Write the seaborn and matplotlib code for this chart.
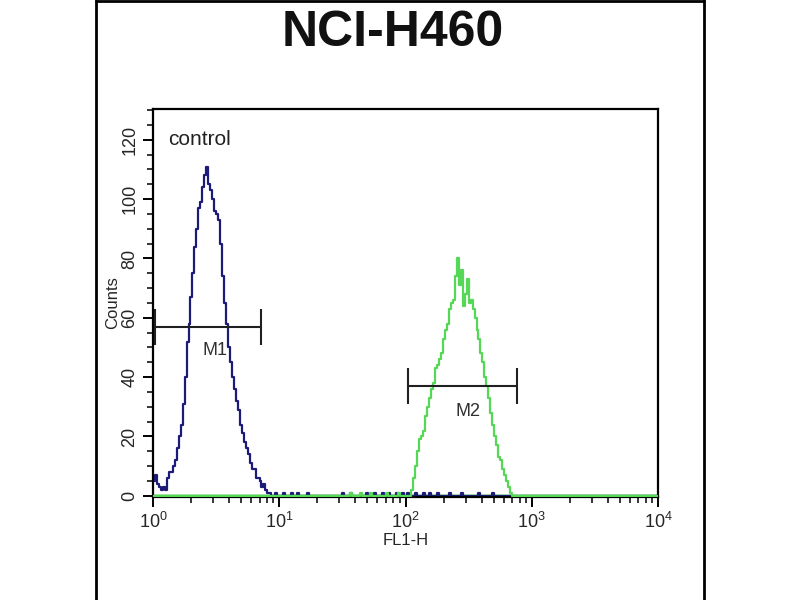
import numpy as np
import pandas as pd
import seaborn as sns
import matplotlib.pyplot as plt
from matplotlib.lines import Line2D
from matplotlib.ticker import MultipleLocator

# histogram channels: 256 channels spread over 4 log decades
n_channels = 256
decades = 4

blue_start = 0
blue_counts = [5, 7, 4, 3, 2, 3, 2, 6, 8, 8, 10, 12, 16, 20, 24, 31, 40, 52, 58, 67,
               75, 84, 90, 97, 99, 104, 108, 111, 105, 103, 100, 96, 95, 93, 85, 74,
               65, 58, 50, 45, 40, 36, 32, 29, 24, 21, 18, 16, 14, 11, 9, 9, 6, 6, 5,
               3, 4, 2, 1, 1]
blue_noise_ch = [62, 66, 70, 73, 78, 96, 100, 108, 112, 116, 119, 123, 126, 129, 133,
                 137, 140, 144, 150, 156, 165, 172]

green_start = 130
green_counts = [0, 2, 6, 10, 15, 19, 20, 22, 27, 30, 33, 36, 38, 43, 44, 46, 48, 53,
                56, 58, 63, 65, 66, 74, 80, 71, 76, 64, 68, 73, 65, 66, 63, 60, 56, 53,
                48, 45, 40, 37, 33, 28, 24, 20, 17, 13, 12, 9, 7, 5, 3, 1]
green_noise_ch = [100, 105, 110, 118, 124]

gate_names = ['M1', 'M2']
gate_lo = [1.04, 104]
gate_hi = [7.2, 760]
gate_level = [57, 37]
gate_label_x = [3.1, 310]
gate_label_y = [49, 28.5]


def build(start, counts, noise):
    full = np.zeros(n_channels)
    full[start:start + len(counts)] = counts
    for c in noise:
        full[c] = max(full[c], 1)
    return full


channels = np.arange(n_channels + 1)
fl1 = 10 ** (channels * decades / n_channels)
blue = build(blue_start, blue_counts, blue_noise_ch)
green = build(green_start, green_counts, green_noise_ch)
df = pd.DataFrame({
    'FL1-H': np.concatenate([fl1, fl1]),
    'Counts': np.concatenate([np.append(blue, 0), np.append(green, 0)]),
    'sample': ['control'] * (n_channels + 1) + ['stained'] * (n_channels + 1),
})

sns.set_style('white')
plt.rcParams['font.family'] = ['Liberation Sans', 'DejaVu Sans']

fig = plt.figure(figsize=(8, 6), dpi=100)
ax = fig.add_axes([0.19125, 0.1717, 0.63125, 0.6467])

ax.axhline(0, color='#a6e6a6', lw=3.5, zorder=1)
sns.lineplot(data=df[df['sample'] == 'control'], x='FL1-H', y='Counts', ax=ax,
             color='#1c1c78', lw=1.6, drawstyle='steps-post', estimator=None, zorder=2)
sns.lineplot(data=df[df['sample'] == 'stained'], x='FL1-H', y='Counts', ax=ax,
             color='#55d855', lw=1.6, drawstyle='steps-post', estimator=None, zorder=3)

ax.set_xscale('log')
ax.set_xlim(1, 10 ** decades)
ax.set_ylim(-0.4, 130.4)
ax.yaxis.set_major_locator(MultipleLocator(20))
ax.yaxis.set_minor_locator(MultipleLocator(5))

for name, lo, hi, lv, lx, ly in zip(gate_names, gate_lo, gate_hi, gate_level,
                                     gate_label_x, gate_label_y):
    ax.hlines(lv, lo, hi, color='#202020', lw=1.5, zorder=4)
    ax.vlines([lo, hi], lv - 6, lv + 6, color='#202020', lw=1.5, zorder=4)
    ax.text(lx, ly, name, ha='center', va='center', fontsize=13, color='#303030')

ax.text(1.32, 120, 'control', ha='left', va='center', fontsize=15, color='#222222')

for s in ax.spines.values():
    s.set_color('black')
    s.set_linewidth(1.6)
ax.tick_params(axis='both', which='both', direction='out', color='black',
               left=True, bottom=True)
ax.tick_params(axis='both', which='major', length=7, width=1.4, labelsize=13)
ax.tick_params(axis='both', which='minor', length=4, width=1.1)
for lab in ax.get_yticklabels():
    lab.set_rotation(90)
    lab.set_va('center')

ax.set_xlabel('FL1-H', fontsize=12, labelpad=1)
ax.set_ylabel('Counts', fontsize=12, labelpad=1)

fig.text(0.491, 0.945, 'NCI-H460', ha='center', va='center', fontsize=36,
         fontweight='bold', color='#111111')

# page frame around the panel
fig.add_artist(Line2D([0.12, 0.12], [0, 1], color='black', lw=2))
fig.add_artist(Line2D([0.88, 0.88], [0, 1], color='black', lw=2))
fig.add_artist(Line2D([0.12, 0.88], [0.998, 0.998], color='black', lw=2))

fig.savefig('out.png', dpi=100)
